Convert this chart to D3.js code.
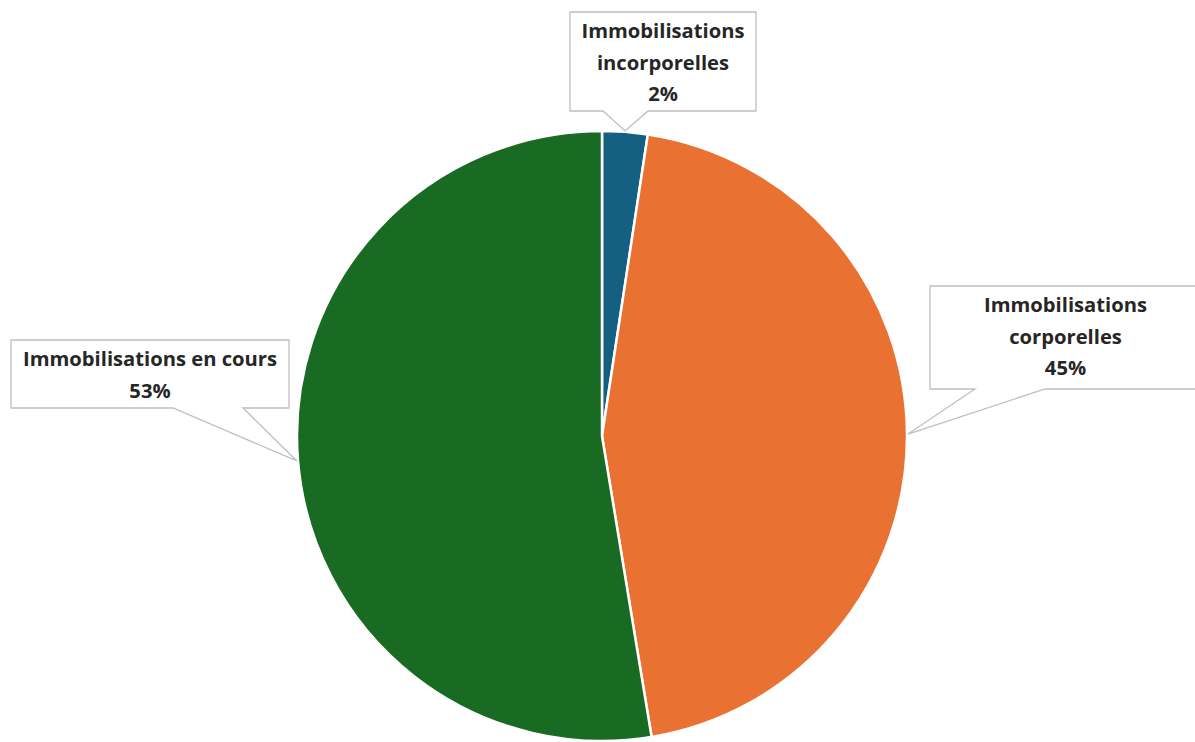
<!DOCTYPE html>
<html>
<head>
<meta charset="utf-8">
<script src="https://cdn.jsdelivr.net/npm/d3@7/dist/d3.min.js"></script>
<style>
  html, body { margin: 0; padding: 0; background: #ffffff; }
  svg { display: block; }
  .lbl { font-family: "Open Sans", Roboto, "Liberation Sans", sans-serif; font-weight: 700; fill: #262626; }
</style>
</head>
<body>
<svg id="chart" width="1195" height="742"></svg>
<script>
// Répartition des immobilisations
const categories = ["Immobilisations incorporelles", "Immobilisations corporelles", "Immobilisations en cours"];
const labelLines = [["Immobilisations", "incorporelles"], ["Immobilisations", "corporelles"], ["Immobilisations en cours"]];
const values = [2.4, 45.0, 52.6];
const colors = ["#156082", "#E97132", "#196B24"];

// Callout boxes: box rectangle and the span of the pointer base on its bottom edge
const callouts = [
  { x: 570, y: 12,  w: 186, h: 99,  baseL: 603, baseR: 648 },
  { x: 930, y: 286, w: 271, h: 103, baseL: 975, baseR: 1045 },
  { x: 11,  y: 340, w: 278, h: 68,  baseL: 173, baseR: 243 }
];

const svg = d3.select("#chart");
const cx = 602, cy = 436, r = 305;
const total = d3.sum(values);

const pie = d3.pie().sort(null).value(d => d);
const arcs = pie(values);
const arc = d3.arc().innerRadius(0).outerRadius(r);

const g = svg.append("g").attr("transform", `translate(${cx},${cy})`);
g.selectAll("path.slice")
  .data(arcs)
  .join("path")
  .attr("class", "slice")
  .attr("d", arc)
  .attr("fill", (d, i) => colors[i])
  .attr("stroke", "#ffffff")
  .attr("stroke-width", 2.5)
  .attr("stroke-linejoin", "round");

const fontSize = 20.2;
const lineGap = 31.5;

arcs.forEach((a, i) => {
  const c = callouts[i];
  const mid = (a.startAngle + a.endAngle) / 2;
  const tipX = cx + (r + 1) * Math.sin(mid);
  const tipY = cy - (r + 1) * Math.cos(mid);
  const bottom = c.y + c.h;
  const p = d3.path();
  p.moveTo(c.x, c.y);
  p.lineTo(c.x + c.w, c.y);
  p.lineTo(c.x + c.w, bottom);
  p.lineTo(c.baseR, bottom);
  p.lineTo(tipX, tipY);
  p.lineTo(c.baseL, bottom);
  p.lineTo(c.x, bottom);
  p.closePath();
  svg.append("path")
    .attr("d", p.toString())
    .attr("fill", "#ffffff")
    .attr("stroke", "#bfbfbf")
    .attr("stroke-width", 1.3);

  const lines = labelLines[i].concat([Math.round(values[i] / total * 100) + "%"]);
  const t = svg.append("text")
    .attr("class", "lbl")
    .attr("text-anchor", "middle")
    .attr("font-size", fontSize);
  lines.forEach((s, k) => {
    t.append("tspan")
      .attr("x", c.x + c.w / 2)
      .attr("y", c.y + 26 + k * lineGap)
      .text(s);
  });
});
</script>
</body>
</html>
